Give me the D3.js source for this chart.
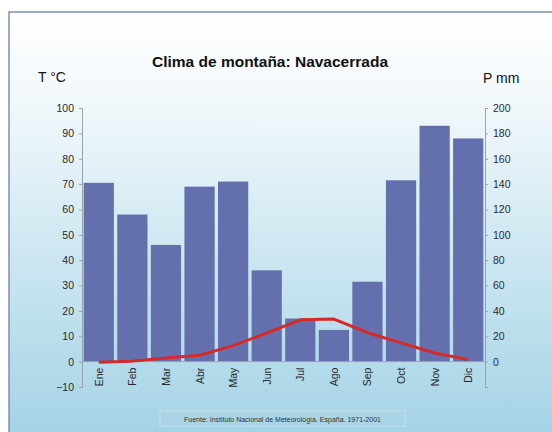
<!DOCTYPE html>
<html>
<head>
<meta charset="utf-8">
<script src="https://cdn.jsdelivr.net/npm/d3@7"></script>
<style>
  html, body { margin: 0; padding: 0; background: #ffffff; }
  svg { display: block; font-family: "Liberation Sans", Arial, sans-serif; }
</style>
</head>
<body>
<svg id="chart" width="552" height="432"></svg>
<script>
// Climograma de Navacerrada (1971-2001)
const months = ["Ene", "Feb", "Mar", "Abr", "May", "Jun", "Jul", "Ago", "Sep", "Oct", "Nov", "Dic"];
const precip = [141, 116, 92, 138, 142, 72, 34, 25, 63, 143, 186, 176];   // P mm
const temp = [-0.2, 0.2, 1.4, 2.5, 6.3, 11.3, 16.5, 16.8, 11.4, 7.4, 3.4, 0.8]; // T °C
const tempTicks = [-10, 0, 10, 20, 30, 40, 50, 60, 70, 80, 90, 100];
const precipTicks = [0, 20, 40, 60, 80, 100, 120, 140, 160, 180, 200];

const svg = d3.select("#chart");
const W = 552, H = 432;
const m = { left: 82, right: 485, top: 108, bottom: 387 };

// fondo degradado
const defs = svg.append("defs");
const grad = defs.append("linearGradient").attr("id", "bg").attr("x1", 0).attr("y1", 0).attr("x2", 0).attr("y2", 1);
grad.append("stop").attr("offset", "0%").attr("stop-color", "#ffffff");
grad.append("stop").attr("offset", "25%").attr("stop-color", "#eef6fa");
grad.append("stop").attr("offset", "60%").attr("stop-color", "#c9e5f0");
grad.append("stop").attr("offset", "100%").attr("stop-color", "#a2d2e5");

svg.append("rect").attr("x", 9).attr("y", 12).attr("width", W).attr("height", H)
  .attr("fill", "url(#bg)").attr("stroke", "#7d8db8").attr("stroke-width", 1.5);

const x = d3.scaleBand().domain(months).range([m.left, m.right]).paddingInner(0.1).paddingOuter(0.05);
const yT = d3.scaleLinear().domain([-10, 100]).range([m.bottom, m.top]);
const yP = d3.scaleLinear().domain([-20, 200]).range([m.bottom, m.top]);

// barras de precipitación
svg.append("g").selectAll("rect").data(precip).join("rect")
  .attr("x", (d, i) => x(months[i]))
  .attr("width", x.bandwidth())
  .attr("y", d => yP(d))
  .attr("height", d => yP(0) - yP(d))
  .attr("fill", "#6470ae");

// ejes
const axisColor = "#9aa3ad";
const left = svg.append("g").attr("transform", `translate(${m.left},0)`)
  .call(d3.axisLeft(yT).tickValues(tempTicks).tickSize(3).tickPadding(5));
const right = svg.append("g").attr("transform", `translate(${m.right},0)`)
  .call(d3.axisRight(yP).tickValues([-20].concat(precipTicks)).tickSize(3).tickPadding(5)
    .tickFormat(d => d < 0 ? "" : d));
[left, right].forEach(g => {
  g.select(".domain").attr("stroke", axisColor);
  g.selectAll(".tick line").attr("stroke", axisColor);
  g.selectAll(".tick text").attr("fill", "#2a2a2a").style("font-size", "10.5px");
});

// línea del cero
svg.append("line").attr("x1", m.left).attr("x2", m.right)
  .attr("y1", yT(0)).attr("y2", yT(0)).attr("stroke", axisColor);

// etiquetas de meses
svg.append("g").selectAll("text").data(months).join("text")
  .attr("transform", d => `translate(${x(d) + x.bandwidth() / 2 + 4},${yT(0) + 6}) rotate(-90)`)
  .attr("text-anchor", "end")
  .attr("fill", "#2a2a2a")
  .style("font-size", "10.5px")
  .text(d => d);

// línea de temperatura
const line = d3.line()
  .x((d, i) => x(months[i]) + x.bandwidth() / 2)
  .y(d => yT(d));
svg.append("path").datum(temp).attr("d", line)
  .attr("fill", "none").attr("stroke", "#d42a2a").attr("stroke-width", 3)
  .attr("stroke-linejoin", "round");

// títulos
svg.append("text").attr("x", 270).attr("y", 67).attr("text-anchor", "middle")
  .style("font-size", "15.5px").style("font-weight", "bold").attr("fill", "#111")
  .text("Clima de montaña: Navacerrada");
svg.append("text").attr("x", 38).attr("y", 82).style("font-size", "14px").attr("fill", "#111")
  .text("T °C");
svg.append("text").attr("x", 483).attr("y", 83).style("font-size", "14px").attr("fill", "#111")
  .text("P mm");

// fuente
svg.append("rect").attr("x", 160).attr("y", 411).attr("width", 245).attr("height", 15)
  .attr("fill", "#a9d5e7").attr("stroke", "#c4dfea");
svg.append("text").attr("x", 282.5).attr("y", 421.5).attr("text-anchor", "middle")
  .style("font-size", "7px").attr("fill", "#333")
  .text("Fuente: Instituto Nacional de Meteorología. España. 1971-2001");
</script>
</body>
</html>
